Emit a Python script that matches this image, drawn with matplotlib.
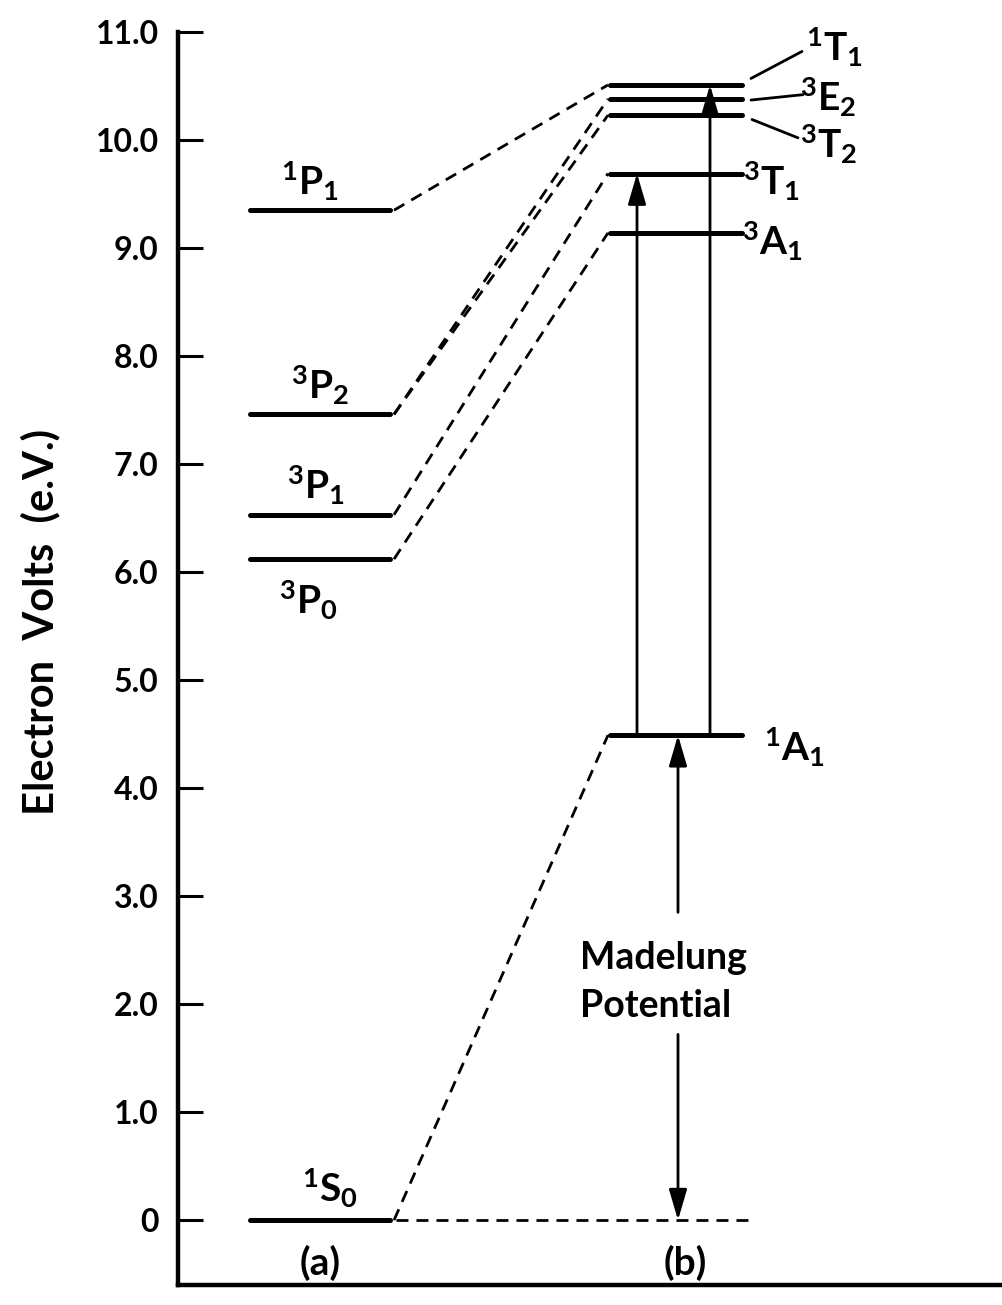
import matplotlib
matplotlib.use("Agg")
import matplotlib.pyplot as plt

plt.rcParams['font.family'] = ['Lato', 'DejaVu Sans']
plt.rcParams['font.weight'] = 'bold'
plt.rcParams['mathtext.fontset'] = 'custom'
plt.rcParams['mathtext.rm'] = 'Lato:bold'
plt.rcParams['mathtext.it'] = 'Lato:bold'
plt.rcParams['mathtext.bf'] = 'Lato:bold'

# ---- data ----
tick_values = [0, 1.0, 2.0, 3.0, 4.0, 5.0, 6.0, 7.0, 8.0, 9.0, 10.0, 11.0]
tick_labels = ["0", "1.0", "2.0", "3.0", "4.0", "5.0", "6.0", "7.0", "8.0", "9.0", "10.0", "11.0"]

free_ion_terms = ["1P1", "3P2", "3P1", "3P0", "1S0"]
free_ion_energy = [9.35, 7.46, 6.53, 6.12, 0.0]

crystal_terms = ["1T1", "3E2", "3T2", "3T1", "3A1", "1A1"]
crystal_energy = [10.51, 10.38, 10.23, 9.69, 9.14, 4.49]

# correlation lines (free ion term -> crystal term)
correlations = [("1P1", "1T1"), ("3P2", "3E2"), ("3P2", "3T2"),
                ("3P1", "3T1"), ("3P0", "3A1"), ("1S0", "1A1")]

# transitions (from, to)
transitions = [("1A1", "3T1"), ("1A1", "1T1")]
madelung_potential = 4.49

term_tex = {
    "1P1": r"$^{1}\mathrm{P}_{1}$", "3P2": r"$^{3}\mathrm{P}_{2}$",
    "3P1": r"$^{3}\mathrm{P}_{1}$", "3P0": r"$^{3}\mathrm{P}_{0}$",
    "1S0": r"$^{1}\mathrm{S}_{0}$", "1T1": r"$^{1}\mathrm{T}_{1}$",
    "3E2": r"$^{3}\mathrm{E}_{2}$", "3T2": r"$^{3}\mathrm{T}_{2}$",
    "3T1": r"$^{3}\mathrm{T}_{1}$", "3A1": r"$^{3}\mathrm{A}_{1}$",
    "1A1": r"$^{1}\mathrm{A}_{1}$",
}

# ---- layout ----
W, H = 1002, 1305
fig = plt.figure(figsize=(W / 100, H / 100), dpi=100)
ax = fig.add_axes([178 / W, 20 / H, 1 - 178 / W, (1285 - 32) / H])
ax.set_xlim(178, 1002)
ax.set_ylim(-0.6, 11.0)

LEFT = (250, 390)
RIGHT = (610, 742)
ZERO_DASH_END = 748

lvl = dict(color='black', lw=3.6, solid_capstyle='round')
dash = dict(color='black', lw=2.0, dashes=(4.3, 2.9))

E_free = dict(zip(free_ion_terms, free_ion_energy))
E_cry = dict(zip(crystal_terms, crystal_energy))

for t in free_ion_terms:
    ax.plot(LEFT, [E_free[t]] * 2, **lvl)
for t in crystal_terms:
    ax.plot(RIGHT, [E_cry[t]] * 2, **lvl)

for a, b in correlations:
    ax.plot([LEFT[1] + 4, RIGHT[0] - 2], [E_free[a], E_cry[b]], **dash)

# zero baseline dashed
ax.plot([LEFT[1] + 6, ZERO_DASH_END], [E_free["1S0"]] * 2, **dash)

# transition arrows
arrow_kw = dict(arrowstyle="-|>,head_length=0.75,head_width=0.22",
                color='black', lw=2.0, shrinkA=0, shrinkB=0, mutation_scale=25)
for (a, b), x in zip(transitions, [637, 710]):
    ax.annotate("", xy=(x, E_cry[b]), xytext=(x, E_cry[a]), arrowprops=arrow_kw)

# Madelung arrow (broken by text)
xm = 678
ax.annotate("", xy=(xm, madelung_potential), xytext=(xm, 2.85), arrowprops=arrow_kw)
ax.annotate("", xy=(xm, 0.0), xytext=(xm, 1.72), arrowprops=arrow_kw)
ax.text(580, 2.43, "Madelung", fontsize=27, ha='left', va='center')
ax.text(580, 1.98, "Potential", fontsize=27, ha='left', va='center')

# labels left
lab_fs = 28
left_labels = {"1P1": (310, 9.62), "3P2": (320, 7.73), "3P1": (316, 6.80),
               "3P0": (308, 5.74), "1S0": (330, 0.30)}
for t, (x, y) in left_labels.items():
    ax.text(x, y, term_tex[t], fontsize=lab_fs, ha='center', va='center')

ax.text(320, -0.40, "(a)", fontsize=28, ha='center', va='center')
ax.text(685, -0.40, "(b)", fontsize=28, ha='center', va='center')

# labels right
right_labels = {"3T1": (743, 9.62), "3A1": (742, 9.06), "1A1": (764, 4.38),
                "1T1": (806, 10.86), "3E2": (800, 10.40), "3T2": (800, 9.96)}
for t, (x, y) in right_labels.items():
    ax.text(x, y, term_tex[t], fontsize=lab_fs, ha='left', va='center')

# leader lines
leaders = [((751, 10.57), (802, 10.82)), ((751, 10.37), (803, 10.42)),
           ((752, 10.19), (798, 10.02))]
for (x0, y0), (x1, y1) in leaders:
    ax.plot([x0, x1], [y0, y1], color='black', lw=2.0, solid_capstyle='round')

# axes styling
for s in ['top', 'right']:
    ax.spines[s].set_visible(False)
ax.spines['left'].set_linewidth(3.2)
ax.spines['bottom'].set_linewidth(3.2)
ax.set_yticks(tick_values)
ax.set_yticklabels(tick_labels, fontweight='bold')
ax.tick_params(axis='y', direction='in', length=18, width=2.2, pad=14, labelsize=23)
ax.set_xticks([])

fig.text(40 / W, 1 - 622 / H, "Electron  Volts  (e.V.)", rotation=90,
         fontsize=30, fontweight='bold', ha='center', va='center')

fig.savefig("out.png", dpi=100)
